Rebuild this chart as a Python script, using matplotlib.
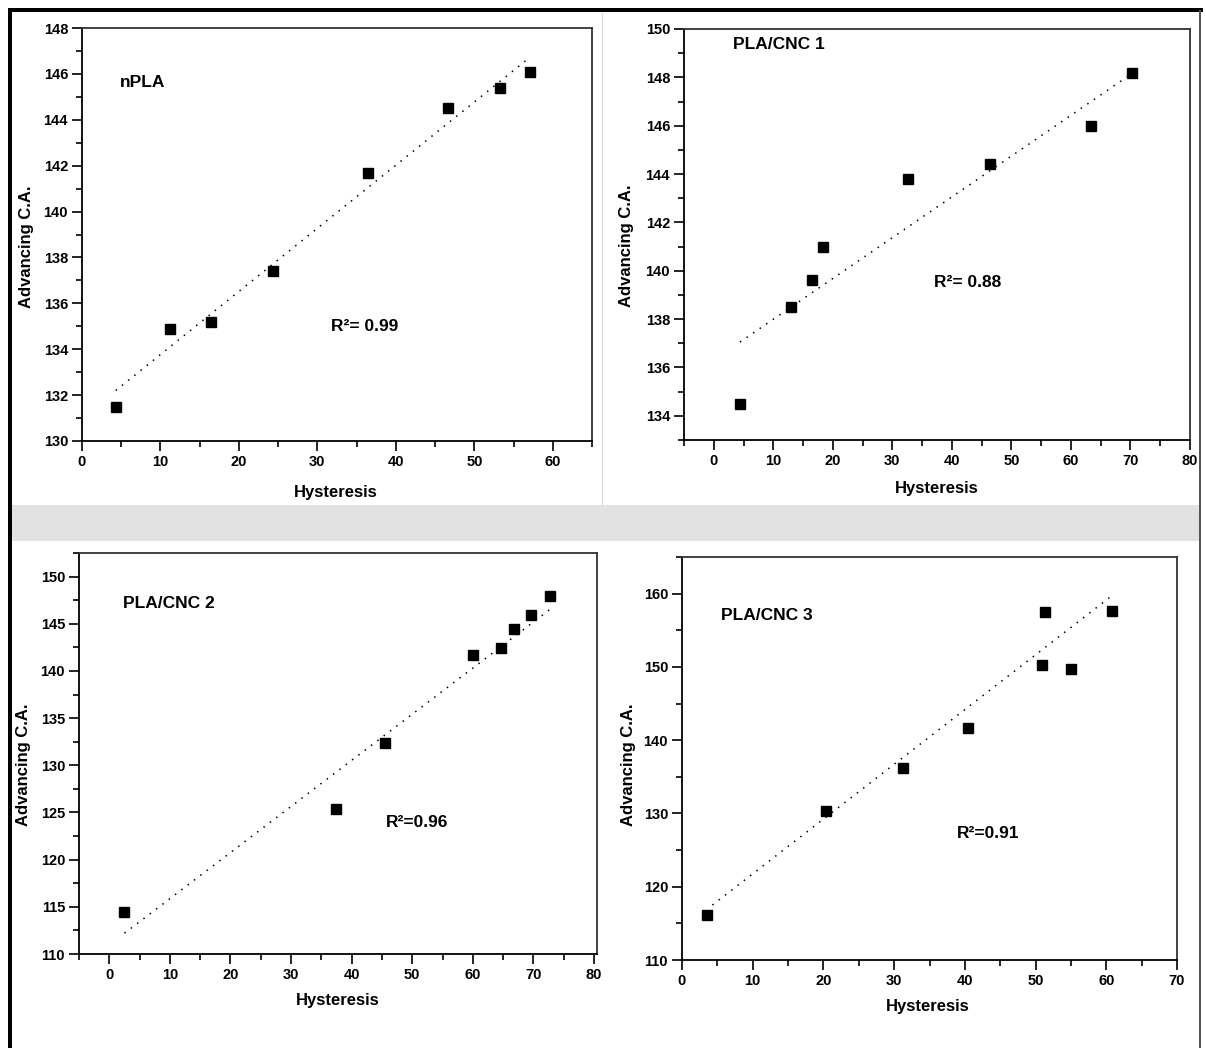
import numpy as np
import matplotlib
matplotlib.use("Agg")
import matplotlib.pyplot as plt
from matplotlib.patches import Rectangle
from matplotlib.ticker import MultipleLocator

plt.rcParams['font.family'] = ['Liberation Sans', 'DejaVu Sans']
plt.rcParams['font.weight'] = 'bold'

# ---------------- data ----------------
npla_x = [4.3, 11.2, 16.4, 24.4, 36.4, 46.7, 53.3, 57.1]
npla_y = [131.5, 134.9, 135.2, 137.4, 141.7, 144.5, 145.4, 146.1]
npla_fit_x = [4.3, 57.0]
npla_fit_y = [132.2, 146.7]

cnc1_x = [4.4, 12.9, 16.5, 18.4, 32.6, 46.4, 63.3, 70.2]
cnc1_y = [134.5, 138.5, 139.6, 141.0, 143.8, 144.4, 146.0, 148.2]
cnc1_fit_x = [4.4, 69.9]
cnc1_fit_y = [137.05, 148.1]

cnc2_x = [2.5, 37.4, 45.5, 60.0, 64.6, 66.8, 69.6, 72.7]
cnc2_y = [114.5, 125.4, 132.4, 141.7, 142.4, 144.4, 145.9, 147.9]
cnc2_fit_x = [2.5, 73.1]
cnc2_fit_y = [112.2, 146.7]

cnc3_x = [3.6, 20.3, 31.2, 40.5, 50.9, 51.4, 55.0, 60.8]
cnc3_y = [116.2, 130.3, 136.2, 141.6, 150.2, 157.5, 149.7, 157.6]
cnc3_fit_x = [4.3, 60.5]
cnc3_fit_y = [117.5, 159.5]

names = ["nPLA", "PLA/CNC 1", "PLA/CNC 2", "PLA/CNC 3"]
r2_labels = ["R\u00b2= 0.99", "R\u00b2= 0.88", "R\u00b2=0.96", "R\u00b2=0.91"]

# ---------------- layout ----------------
W, H = 1206, 1048
fig = plt.figure(figsize=(W / 100, H / 100), dpi=100)
fig.patch.set_facecolor('white')

def frac_rect(x0, y0, x1, y1):
    return [x0 / W, 1 - y1 / H, (x1 - x0) / W, (y1 - y0) / H]

panels = [
    dict(x=npla_x, y=npla_y, fx=npla_fit_x, fy=npla_fit_y,
         box=(82, 28, 592, 441), xlim=(0, 65), ylim=(130, 148),
         xmin=5, ymaj=2, ymin=1, xticks=np.arange(0, 61, 10),
         name_pos=(0.075, 0.867), r2_pos=(0.488, 0.277),
         xlab=(336, 492), ylab=(27, 247)),
    dict(x=cnc1_x, y=cnc1_y, fx=cnc1_fit_x, fy=cnc1_fit_y,
         box=(684, 29, 1190, 440), xlim=(-5, 80), ylim=(133, 150),
         xmin=5, ymaj=2, ymin=1, xticks=np.arange(0, 81, 10),
         name_pos=(0.097, 0.962), r2_pos=(0.495, 0.382),
         xlab=(937, 489), ylab=(626, 246)),
    dict(x=cnc2_x, y=cnc2_y, fx=cnc2_fit_x, fy=cnc2_fit_y,
         box=(79, 553, 597, 954), xlim=(-5, 80.5), ylim=(110, 152.5),
         xmin=5, ymaj=5, ymin=2.5, xticks=np.arange(0, 81, 10),
         name_pos=(0.085, 0.875), r2_pos=(0.592, 0.329),
         xlab=(338, 1001), ylab=(24, 765)),
    dict(x=cnc3_x, y=cnc3_y, fx=cnc3_fit_x, fy=cnc3_fit_y,
         box=(682, 557, 1177, 960), xlim=(0, 70), ylim=(110, 165),
         xmin=5, ymaj=10, ymin=5, xticks=np.arange(0, 71, 10),
         name_pos=(0.079, 0.856), r2_pos=(0.556, 0.315),
         xlab=(928, 1006), ylab=(628, 765)),
]

# background decoration (watermark band, borders)
fig.add_artist(Rectangle((12 / W, 1 - 541 / H), (1199 - 12) / W, 36 / H,
                         transform=fig.transFigure, facecolor='#e2e2e2',
                         edgecolor='none', zorder=-5))
fig.add_artist(plt.Line2D([602 / W, 602 / W], [1 - 12 / H, 1 - 505 / H],
                          transform=fig.transFigure, color='#dddddd', lw=0.8, zorder=-5))
fig.add_artist(Rectangle((8 / W, 1 - 12 / H), (1203 - 8) / W, 4 / H,
                         transform=fig.transFigure, facecolor='black', edgecolor='none'))
fig.add_artist(Rectangle((8 / W, 0), 4 / W, 1 - 8 / H,
                         transform=fig.transFigure, facecolor='black', edgecolor='none'))
fig.add_artist(Rectangle((1199 / W, 0), 2 / W, 1 - 10 / H,
                         transform=fig.transFigure, facecolor='#555555', edgecolor='none'))

for i, p in enumerate(panels):
    ax = fig.add_axes(frac_rect(*p['box']))
    ax.set_facecolor('white')
    ax.plot(p['x'], p['y'], linestyle='none', marker='s', ms=6.8, color='black', zorder=3)
    ax.plot(p['fx'], p['fy'], color='black', lw=1.1, linestyle=(0, (1, 4.2)), zorder=2)

    ax.set_xlim(*p['xlim'])
    ax.set_ylim(*p['ylim'])
    ax.set_xticks(p['xticks'])
    ax.xaxis.set_minor_locator(MultipleLocator(p['xmin']))
    ax.yaxis.set_major_locator(MultipleLocator(p['ymaj']))
    ax.yaxis.set_minor_locator(MultipleLocator(p['ymin']))
    ax.tick_params(which='major', direction='out', length=7, width=1.2,
                   labelsize=10.5, pad=3, top=False, right=False)
    ax.tick_params(which='minor', direction='out', length=4, width=1.2,
                   top=False, right=False)
    for lab in ax.get_xticklabels() + ax.get_yticklabels():
        lab.set_fontweight('bold')
    for s in ['left', 'bottom']:
        ax.spines[s].set_linewidth(1.3)
        ax.spines[s].set_color('black')
    for s in ['top', 'right']:
        ax.spines[s].set_linewidth(1.3)
        ax.spines[s].set_color('#333333')

    ax.text(*p['name_pos'], names[i], transform=ax.transAxes, fontsize=12.5,
            fontweight='bold', ha='left', va='center')
    ax.text(*p['r2_pos'], r2_labels[i], transform=ax.transAxes, fontsize=12.5,
            fontweight='bold', ha='left', va='center')

    x0, y0, x1, y1 = p['box']
    ax.set_xlabel('Hysteresis', fontsize=12, fontweight='bold')
    ax.set_ylabel('Advancing C.A.', fontsize=12, fontweight='bold')
    lxp, lyp = p['xlab']
    ax.xaxis.set_label_coords((lxp - x0) / (x1 - x0), (y1 - lyp) / (y1 - y0))
    ax.xaxis.label.set_verticalalignment('center')
    yxp, yyp = p['ylab']
    ax.yaxis.set_label_coords((yxp - x0) / (x1 - x0), (y1 - yyp) / (y1 - y0))
    ax.yaxis.label.set_verticalalignment('center')

fig.savefig('out.png', dpi=100, facecolor='white')
